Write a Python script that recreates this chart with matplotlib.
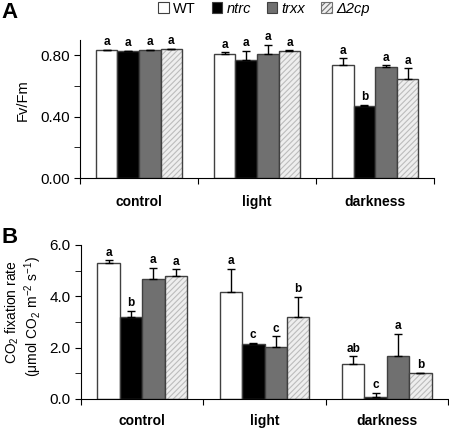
import matplotlib
matplotlib.use("Agg")
import matplotlib.pyplot as plt
import numpy as np
from matplotlib.patches import Patch

plt.rcParams["font.family"] = ["Liberation Sans", "DejaVu Sans"]
plt.rcParams["mathtext.fontset"] = "custom"
plt.rcParams["mathtext.rm"] = "Liberation Sans"
plt.rcParams["mathtext.it"] = "Liberation Sans:italic"
plt.rcParams["hatch.linewidth"] = 0.8

groups = ["control", "light", "darkness"]
lines = ["WT", "ntrc", "trxx", "Δ2cp"]

# panel A: Fv/Fm
fvfm = [[0.830, 0.825, 0.830, 0.836],
        [0.806, 0.767, 0.808, 0.826],
        [0.735, 0.468, 0.722, 0.642]]
fvfm_err = [[0.005, 0.004, 0.005, 0.005],
            [0.012, 0.060, 0.060, 0.005],
            [0.045, 0.010, 0.010, 0.071]]
fvfm_sig = [["a", "a", "a", "a"],
            ["a", "a", "a", "a"],
            ["a", "b", "a", "a"]]

# panel B: CO2 fixation
co2 = [[5.31, 3.18, 4.69, 4.80],
       [4.16, 2.15, 2.03, 3.21],
       [1.35, 0.08, 1.68, 1.00]]
co2_err = [[0.10, 0.25, 0.43, 0.26],
           [0.92, 0.03, 0.41, 0.78],
           [0.31, 0.17, 0.86, 0.02]]
co2_sig = [["a", "b", "a", "a"],
           ["a", "c", "c", "b"],
           ["ab", "c", "a", "b"]]

faces = ["white", "black", "#707070", "#eeeeee"]
hatches = [None, None, None, "//////"]
EDGE = "#404040"
W = 0.183


def draw_panel(ax, vals, errs, sig, ymax, major, minor, fmt, txt_off, pad):
    vals = np.array(vals)
    errs = np.array(errs)
    for i in range(4):
        x = np.arange(3) + 0.5 + (i - 1.5) * W
        if hatches[i]:
            ax.bar(x, vals[:, i], W, color=faces[i], edgecolor="#bcbcbc",
                   hatch=hatches[i], linewidth=0, zorder=2)
            ax.bar(x, vals[:, i], W, fill=False, edgecolor=EDGE,
                   linewidth=1, zorder=3)
        else:
            ax.bar(x, vals[:, i], W, color=faces[i], edgecolor=EDGE,
                   linewidth=1, zorder=2)
        ax.errorbar(x, vals[:, i], yerr=[np.zeros(3), errs[:, i]], fmt="none",
                    ecolor="black", elinewidth=1, capsize=3, capthick=1, zorder=4)
        for g in range(3):
            ax.text(x[g], vals[g, i] + errs[g, i] + txt_off, sig[g][i],
                    ha="center", va="bottom", fontsize=8.5, fontweight="bold")
    ax.set_xlim(0, 3)
    ax.set_ylim(0, ymax)
    ax.set_xticks([0, 1, 2, 3], ["", "", "", ""])
    ax.set_xticks([0.5, 1.5, 2.5], groups, minor=True)
    ax.tick_params(axis="x", which="major", length=4, direction="out")
    ax.tick_params(axis="x", which="minor", length=0, pad=pad, labelsize=10)
    for lab in ax.get_xticklabels(minor=True):
        lab.set_fontweight("bold")
    ax.set_yticks(major, [fmt.format(v) for v in major])
    ax.set_yticks(minor, minor=True)
    ax.tick_params(axis="y", which="both", length=4, direction="out", labelsize=11)
    for s in ["top", "right"]:
        ax.spines[s].set_visible(False)


fig = plt.figure(figsize=(4.49, 4.28), dpi=100)
axA = fig.add_axes([0.178, 0.584, 0.789, 0.3234])
axB = fig.add_axes([0.1804, 0.0678, 0.8174, 0.3598])

draw_panel(axA, fvfm, fvfm_err, fvfm_sig, 0.9, [0, 0.4, 0.8], [0.2, 0.6],
           "{:.2f}", 0.01, 12)
axA.set_ylabel("Fv/Fm", fontsize=10.5)
axA.yaxis.set_label_coords(-0.141, 0.56)

draw_panel(axB, co2, co2_err, co2_sig, 6.0, [0, 2, 4, 6], [1, 3, 5],
           "{:.1f}", 0.06, 10.5)
fig.text(12 / 449, 1 - 312 / 428, "CO$_2$ fixation rate", rotation=90,
         ha="center", va="center", fontsize=10)
fig.text(33 / 449, 1 - 317 / 428, "(μmol CO$_2$ m$^{-2}$ s$^{-1}$)", rotation=90,
         ha="center", va="center", fontsize=10)

fig.text(0.004, 0.995, "A", fontsize=16, fontweight="bold", va="top")
fig.text(0.004, 0.47, "B", fontsize=16, fontweight="bold", va="top")

handles = [Patch(facecolor=faces[i], edgecolor=EDGE if not hatches[i] else "#707070",
                 hatch=hatches[i], linewidth=0.8) for i in range(4)]
leg = fig.legend(handles, lines, loc="upper left", bbox_to_anchor=(0.34, 1.01),
                 ncol=4, frameon=False, fontsize=10.5, handlelength=0.7,
                 handleheight=0.7, handletextpad=0.3, columnspacing=1.1,
                 borderaxespad=0)
for t in leg.get_texts()[1:]:
    t.set_fontstyle("italic")

fig.savefig("out.png", dpi=100)
